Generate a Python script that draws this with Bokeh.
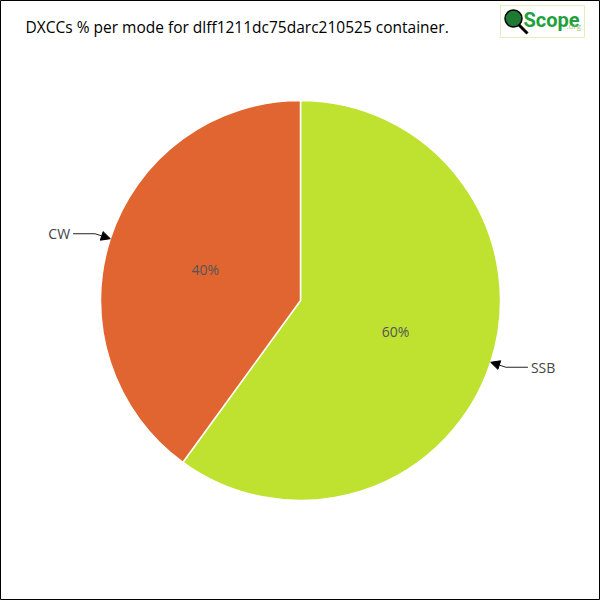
import math
from bokeh.plotting import figure
from bokeh.models import ColumnDataSource, Arrow, NormalHead, Range1d
from bokeh.core.properties import value
from bokeh.embed import file_html
from bokeh.resources import INLINE

# ---- data ----
modes = ["SSB", "CW"]
percents = [60, 40]
colors = ["#BEE22F", "#E06530"]
title_text = "DXCCs % per mode for dlff1211dc75darc210525 container."

W = H = 600
OFF = 0


def X(xr):
    return xr - OFF


def Y(yr):
    return H - (yr - OFF)


p = figure(width=W, height=H, output_backend="svg", toolbar_location=None,
           x_range=Range1d(0, W), y_range=Range1d(0, H), min_border=0,
           outline_line_color="black", outline_line_width=1,
           background_fill_color="white", border_fill_color="white")
p.axis.visible = False
p.grid.visible = False

cx, cy, R = X(300), Y(300), 200
total = sum(percents)
starts, ends, mids = [], [], []
cum = 0.0
for v in percents:
    a0 = math.pi / 2 - 2 * math.pi * cum / total
    cum += v
    a1 = math.pi / 2 - 2 * math.pi * cum / total
    starts.append(a0)
    ends.append(a1)
    mids.append((a0 + a1) / 2)

src = ColumnDataSource(dict(x=[cx] * len(modes), y=[cy] * len(modes),
                            start=starts, end=ends, color=colors))
p.wedge(x="x", y="y", radius=R, start_angle="start", end_angle="end",
        direction="clock", fill_color="color", line_color="white",
        line_width=1.5, source=src)

# percent labels inside
pl = ColumnDataSource(dict(
    x=[cx + 0.5 * R * math.cos(m) for m in mids],
    y=[cy + 0.5 * R * math.sin(m) for m in mids],
    t=[f"{v}%" for v in percents]))
p.text(x="x", y="y", text="t", source=pl, text_align="center",
       text_baseline="middle", text_font=value("Open Sans"),
       text_font_size="14px", text_color="#555555", text_font_style="normal")

# leader lines with arrows and labels
for m, name in zip(mids, modes):
    tipx, tipy = cx + R * math.cos(m), cy + R * math.sin(m)
    ex, ey = cx + (R + 16) * math.cos(m), cy + (R + 16) * math.sin(m)
    side = 1 if math.cos(m) >= 0 else -1
    hx = ex + side * 22
    p.line([hx, ex], [ey, ey], line_color="#222222", line_width=1)
    p.add_layout(Arrow(end=NormalHead(size=9, fill_color="black",
                                      line_color="black"),
                       x_start=ex, y_start=ey, x_end=tipx, y_end=tipy,
                       line_color="#222222", line_width=1))
    p.text(x=[hx + side * 3], y=[ey], text=[name],
           text_align="left" if side > 0 else "right",
           text_baseline="middle", text_font=value("Open Sans"),
           text_font_size="14px", text_color="#444444")

# title
p.text(x=[X(25)], y=[Y(26)], text=[title_text], text_align="left",
       text_baseline="middle", text_font=value("Open Sans"),
       text_font_size="15.5px", text_color="black")

# logo
p.rect(x=[X(542)], y=[Y(21)], width=84, height=32, fill_color="white",
       line_color="#E4ECC0", line_width=1)
p.line([X(518), X(527)], [Y(24), Y(33)], line_color="black", line_width=3)
p.scatter(x=[X(513)], y=[Y(18)], size=17, marker="circle",
          fill_color="#1E7A32", line_color="black", line_width=1.5)
p.text(x=[X(523)], y=[Y(19)], text=["Scope"], text_align="left",
       text_baseline="middle", text_font=value("Roboto"),
       text_font_size="20px", text_font_style="bold", text_color="#22A03C")
p.text(x=[X(566)], y=[Y(25)], text=[".org"], text_align="left",
       text_baseline="middle", text_font=value("Open Sans"),
       text_font_size="8px", text_color="#9CC87A")

open("out.html", "w").write(file_html(p, INLINE))
